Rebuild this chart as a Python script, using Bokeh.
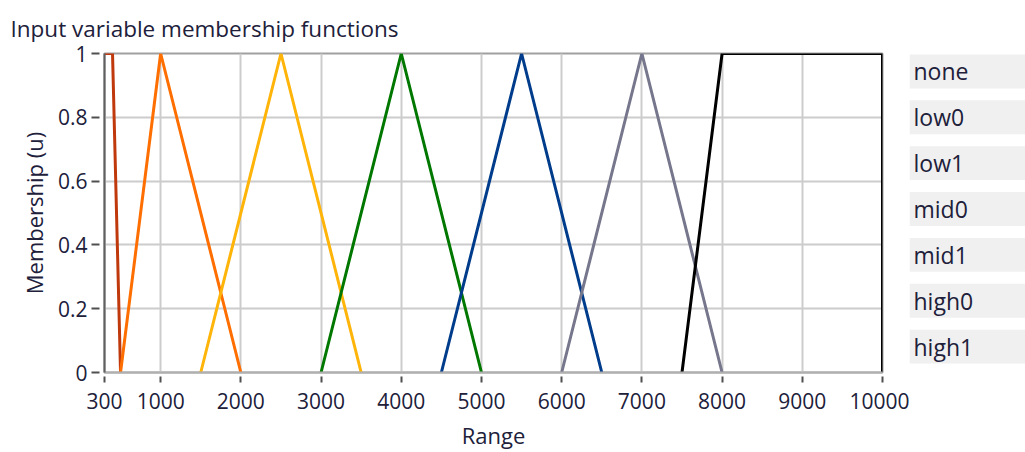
from bokeh.plotting import figure
from bokeh.models import Range1d, FixedTicker, ColumnDataSource
from bokeh.layouts import row
from bokeh.embed import file_html
from bokeh.resources import INLINE
from bokeh.core.properties import value

# ---- data ----
names = ["none", "low0", "low1", "mid0", "mid1", "high0", "high1"]
xs = [
    [300, 400, 500],
    [500, 1000, 2000],
    [1500, 2500, 3500],
    [3000, 4000, 5000],
    [4500, 5500, 6500],
    [6000, 7000, 8000],
    [7500, 8000, 10000, 10000],
]
ys = [
    [1, 1, 0],
    [0, 1, 0],
    [0, 1, 0],
    [0, 1, 0],
    [0, 1, 0],
    [0, 1, 0],
    [0, 1, 1, 0],
]
colors = ["#C0390C", "#FF6E00", "#FFB40A", "#007800", "#003C8C", "#76768C", "#000000"]
x_ticks = [300, 1000, 2000, 3000, 4000, 5000, 6000, 7000, 8000, 9000, 10000]
x_labels = ["300", "1000", "2000", "3000", "4000", "5000", "6000", "7000", "8000", "9000", "10000"]
y_ticks = [0, 0.2, 0.4, 0.6, 0.8, 1]
y_labels = ["0", "0.2", "0.4", "0.6", "0.8", "1"]
title_text = "Input variable membership functions"

FONT = "Open Sans"
TXT = "#20203a"

p = figure(width=909, height=452, x_range=Range1d(300, 10000), y_range=Range1d(0, 1),
           toolbar_location=None, output_backend="svg",
           min_border_left=104, min_border_right=27, min_border_top=52, min_border_bottom=80,
           title=title_text)
p.background_fill_color = "white"
p.border_fill_color = "white"
p.outline_line_color = "#a0a0a0"
p.outline_line_width = 2

p.title.text_font = FONT
p.title.text_font_size = "22.5px"
p.title.text_font_style = "normal"
p.title.text_color = TXT
p.title.align = "left"
p.title.offset = -94
p.title.standoff = 20

for xv, yv, c in zip(xs, ys, colors):
    p.line(xv, yv, line_color=c, line_width=3)

p.xaxis.ticker = FixedTicker(ticks=x_ticks)
p.xaxis.major_label_overrides = dict(zip(x_ticks, x_labels))
p.yaxis.ticker = FixedTicker(ticks=y_ticks)
p.yaxis.major_label_overrides = dict(zip(y_ticks, y_labels))
p.xaxis.minor_tick_line_color = None
p.yaxis.minor_tick_line_color = None

for ax in (p.xaxis[0], p.yaxis[0]):
    ax.major_label_text_font = FONT
    ax.major_label_text_font_size = "21px"
    ax.major_label_text_color = TXT
    ax.axis_label_text_font = FONT
    ax.axis_label_text_font_size = "22px"
    ax.axis_label_text_font_style = "normal"
    ax.axis_label_text_color = TXT
    ax.major_tick_line_color = "#505050"
    ax.major_tick_line_width = 2

p.xaxis.axis_label = "Range"
p.yaxis.axis_label = "Membership (u)"
p.xaxis.axis_line_color = "#b0b0b0"
p.xaxis.axis_line_width = 2
p.yaxis.axis_line_color = "#606060"
p.yaxis.axis_line_width = 2
p.xaxis.major_tick_in = -4
p.xaxis.major_tick_out = 10
p.yaxis.major_tick_in = -5
p.yaxis.major_tick_out = 13
p.xaxis.major_label_standoff = 10
p.yaxis.major_label_standoff = 4
p.xaxis.axis_label_standoff = 8
p.yaxis.axis_label_standoff = 6

p.grid.grid_line_color = "#cccccc"
p.grid.grid_line_width = 2

# ---- legend panel (its frame is aligned with the main frame: 52..372 px) ----
lg = figure(width=116, height=452, x_range=Range1d(0, 116), y_range=Range1d(372, 52),
            toolbar_location=None, output_backend="svg",
            x_axis_location=None, y_axis_location=None, min_border=0)
lg.grid.visible = False
lg.outline_line_color = None
lg.background_fill_color = "white"
lg.border_fill_color = "white"
idx = list(range(len(names)))
src = ColumnDataSource(dict(
    name=names,
    top=[53 + 46 * i for i in idx],
    bottom=[87 + 46 * i for i in idx],
    mid=[70 + 46 * i for i in idx],
))
lg.quad(left=0, right=116, top="top", bottom="bottom", source=src,
        fill_color="#f0f0f0", line_color=None)
lg.text(x=4, y="mid", text="name", source=src, text_baseline="middle",
        text_font=value(FONT), text_font_size="23px", text_color=TXT)

layout = row(p, lg)
open("out.html", "w").write(file_html(layout, INLINE))
